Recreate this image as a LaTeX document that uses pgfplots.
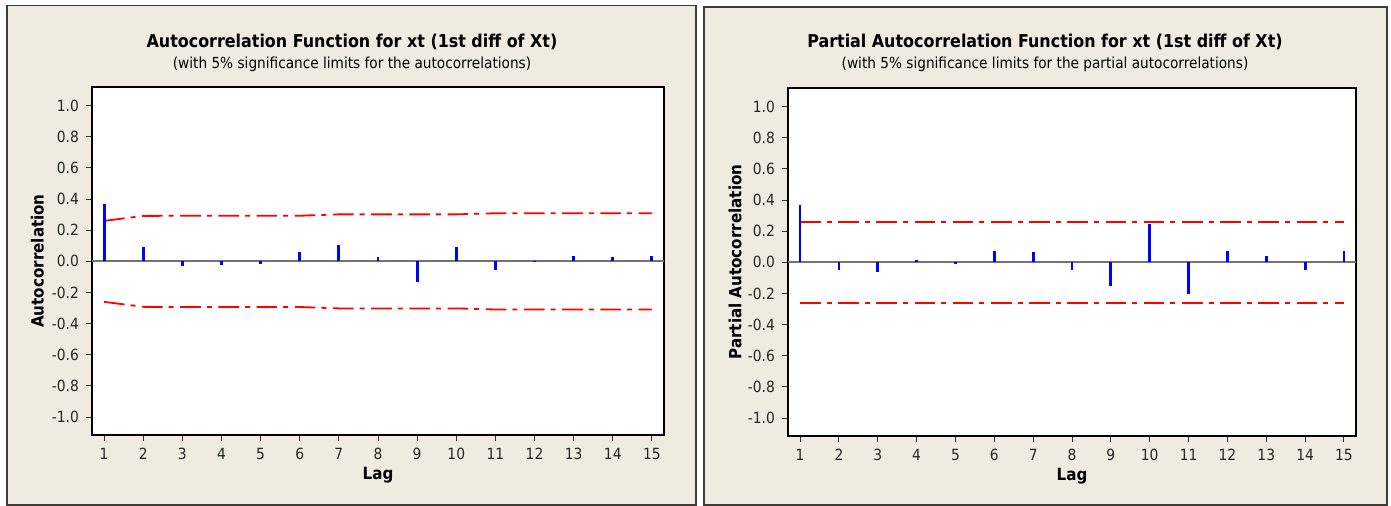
\documentclass[border=0pt]{standalone}
\usepackage{fontspec}
\setmainfont{DejaVu Sans Condensed}
\usepackage{pgfplots}
\pgfplotsset{compat=1.18}
\definecolor{panelbg}{RGB}{239,235,225}
\definecolor{panelborder}{RGB}{60,60,60}
\definecolor{acfblue}{RGB}{0,0,255}
\definecolor{limred}{RGB}{255,0,0}
\pgfplotsset{
  acfstyle/.style={
    scale only axis,
    anchor=south west,
    xmin=0.69, xmax=15.31,
    ymin=-1.115, ymax=1.12,
    axis background/.style={fill=white},
    axis line style={black, line width=0.6pt},
    xtick={1,...,15},
    ytick={-1,-0.8,...,1.01},
    tick align=outside,
    xtick pos=bottom, ytick pos=left,
    major tick length=3pt,
    tick style={black!80, line width=0.5pt},
    yticklabel style={/pgf/number format/.cd, fixed, fixed zerofill, precision=1, assume math mode=true},
    xticklabel style={/pgf/number format/assume math mode=true},
    tick label style={font=\fontsize{7.7}{8}\selectfont, text=black!85},
    xlabel={\textbf{Lag}},
    xlabel style={font=\fontsize{8.4}{9}\selectfont, at={(axis description cs:0.5,-0.115)}, anchor=center},
    ylabel style={font=\fontsize{8.4}{9}\selectfont, rotate=0, anchor=center},
    clip=true,
  },
  limline/.style={limred, line width=0.9pt, dash pattern=on 10.3pt off 3pt on 2.5pt off 3.3pt},
  bars/.style={ycomb, acfblue, line width=1.4pt, mark=none},
  zeroline/.style={black!55, line width=1pt},
}
\begin{document}
\begin{tikzpicture}
\path[use as bounding box] (0,0) rectangle (695.5pt,253pt);
% panels
\fill[panelbg] (3.5pt,0.5pt) rectangle (348pt,250.2pt);
\draw[panelborder, line width=0.9pt] (3.5pt,0.45pt) rectangle (348pt,250.2pt);
\fill[panelbg] (352pt,0.5pt) rectangle (693.5pt,249.5pt);
\draw[panelborder, line width=0.9pt] (352pt,0.45pt) rectangle (693.5pt,249.5pt);
% titles
\node[font=\fontsize{8.85}{10}\selectfont\bfseries, anchor=center] at (176pt,232pt) {Autocorrelation Function for xt (1st diff of Xt)};
\node[font=\fontsize{7.6}{9}\selectfont, anchor=center] at (176pt,220.8pt) {(with 5\% significance limits for the autocorrelations)};
\node[font=\fontsize{8.85}{10}\selectfont\bfseries, anchor=center] at (522.5pt,232pt) {Partial Autocorrelation Function for xt (1st diff of Xt)};
\node[font=\fontsize{7.6}{9}\selectfont, anchor=center] at (522.5pt,220.8pt) {(with 5\% significance limits for the partial autocorrelations)};

% ACF
\begin{axis}[acfstyle,
  at={(46pt,35.5pt)}, width=286pt, height=174pt,
  ylabel={\textbf{Autocorrelation}},
  ylabel style={at={(axis description cs:-0.0953,0.5)}, rotate=0},
]
\addplot[zeroline] coordinates {(0.5,0) (15.5,0)};
\addplot[limline] coordinates {(1,0.260) (2,0.292) (3,0.293) (4,0.293) (5,0.293) (6,0.293) (7,0.302) (8,0.302) (9,0.302) (10,0.302) (11,0.309) (12,0.309) (13,0.309) (14,0.309) (15,0.309)};
\addplot[limline] coordinates {(1,-0.260) (2,-0.292) (3,-0.293) (4,-0.293) (5,-0.293) (6,-0.293) (7,-0.302) (8,-0.302) (9,-0.302) (10,-0.302) (11,-0.309) (12,-0.309) (13,-0.309) (14,-0.309) (15,-0.309)};
\addplot[bars] coordinates {(1,0.368) (2,0.094) (3,-0.032) (4,-0.026) (5,-0.015) (6,0.062) (7,0.102) (8,0.026) (9,-0.132) (10,0.094) (11,-0.057) (12,0.002) (13,0.034) (14,0.026) (15,0.036)};
\end{axis}

% PACF
\begin{axis}[acfstyle,
  at={(394pt,35pt)}, width=284pt, height=174pt,
  ylabel={\textbf{Partial Autocorrelation}},
  ylabel style={at={(axis description cs:-0.0933,0.5)}, rotate=0},
]
\addplot[zeroline] coordinates {(0.5,0) (15.5,0)};
\addplot[limline] coordinates {(1,0.260) (15,0.260)};
\addplot[limline] coordinates {(1,-0.260) (15,-0.260)};
\addplot[bars] coordinates {(1,0.366) (2,-0.052) (3,-0.060) (4,0.015) (5,-0.011) (6,0.073) (7,0.065) (8,-0.052) (9,-0.153) (10,0.249) (11,-0.204) (12,0.073) (13,0.039) (14,-0.052) (15,0.073)};
\end{axis}
\end{tikzpicture}
\end{document}
